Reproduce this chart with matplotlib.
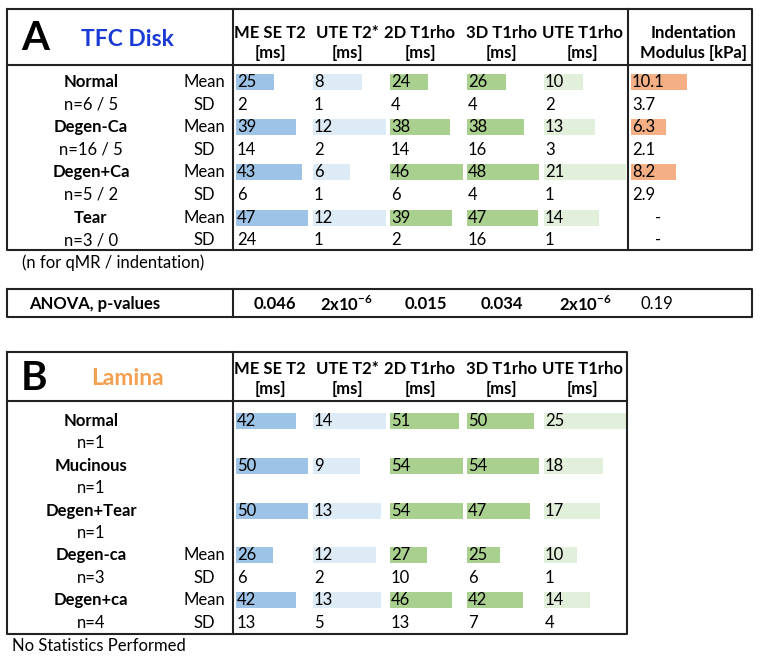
import numpy as np
import matplotlib
matplotlib.use('Agg')
import matplotlib.pyplot as plt

plt.rcParams['font.family'] = ['Lato', 'DejaVu Sans']

#=== data ====
columns = ['ME SE T2', 'UTE T2*', '2D T1rho', '3D T1rho', 'UTE T1rho']
units = ['[ms]', '[ms]', '[ms]', '[ms]', '[ms]']

# panel A : TFC disk
a_groups = ['Normal', 'Degen-Ca', 'Degen+Ca', 'Tear']
a_n = ['n=6 / 5', 'n=16 / 5', 'n=5 / 2', 'n=3 / 0']
a_mese_mean = [25, 39, 43, 47]
a_mese_sd = [2, 14, 6, 24]
a_ute2_mean = [8, 12, 6, 12]
a_ute2_sd = [1, 2, 1, 1]
a_2d_mean = [24, 38, 46, 39]
a_2d_sd = [4, 14, 6, 2]
a_3d_mean = [26, 38, 48, 47]
a_3d_sd = [4, 16, 4, 16]
a_uter_mean = [10, 13, 21, 14]
a_uter_sd = [2, 3, 1, 1]
a_ind_mean = [10.1, 6.3, 8.2, None]
a_ind_sd = [3.7, 2.1, 2.9, None]

anova_p = ['0.046', r'2x10$^{\mathregular{-6}}$', '0.015', '0.034',
           r'2x10$^{\mathregular{-6}}$', '0.19']

# panel B : lamina
b_groups = ['Normal', 'Mucinous', 'Degen+Tear', 'Degen-ca', 'Degen+ca']
b_n = ['n=1', 'n=1', 'n=1', 'n=3', 'n=4']
b_mese_mean = [42, 50, 50, 26, 42]
b_mese_sd = [None, None, None, 6, 13]
b_ute2_mean = [14, 9, 13, 12, 13]
b_ute2_sd = [None, None, None, 2, 5]
b_2d_mean = [51, 54, 54, 27, 46]
b_2d_sd = [None, None, None, 10, 13]
b_3d_mean = [50, 54, 47, 25, 42]
b_3d_sd = [None, None, None, 6, 7]
b_uter_mean = [25, 18, 17, 10, 14]
b_uter_sd = [None, None, None, 1, 4]

#=== layout (pixels) ====
col_left = [233, 310, 387, 464, 541, 628]
col_center = [270, 347, 420, 501, 582, 693]
bar_max = [72, 73, 73, 72, 82, 56]
bar_colors = ['#9dc3e6', '#ddebf7', '#a9d08e', '#a9d08e', '#e2efda', '#f4b084']
FS = 12
LW = 1.5

fig = plt.figure(figsize=(7.62, 6.58), dpi=100)
ax = fig.add_axes([0, 0, 1, 1])
ax.set_xlim(0, 762)
ax.set_ylim(658, 0)
ax.axis('off')


def box(x0, y0, x1, y1):
    ax.plot([x0, x1, x1, x0, x0], [y0, y0, y1, y1, y0], color='#222222', lw=LW, solid_capstyle='projecting')


def fmt(v):
    if v is None:
        return ''
    return ('%.1f' % v) if isinstance(v, float) else str(v)


def header(y_top, y_sep, letter, title, tcolor, ncol, right):
    ym = (y_top + y_sep) / 2
    ax.text(21, ym + 2, letter, fontsize=29, fontweight='bold', ha='left', va='center')
    ax.text(127, ym + 2, title, fontsize=16.5, fontweight='bold', color=tcolor, ha='center', va='center')
    for i in range(ncol):
        ax.text(col_center[i], y_sep - 32, columns[i], fontsize=FS, fontweight='bold', ha='center', va='center')
        ax.text(col_center[i], y_sep - 12, units[i], fontsize=FS, fontweight='bold', ha='center', va='center')
    ax.plot([7, right], [y_sep, y_sep], color='#222222', lw=LW)


def body(y0, dy, groups, nlab, means, sds, stats):
    n = len(groups)
    ym = y0 + np.arange(n) * 2 * dy
    ys = ym + dy
    for i in range(n):
        ax.text(91, ym[i], groups[i], fontsize=FS, fontweight='bold', ha='center', va='center')
        ax.text(91, ys[i], nlab[i], fontsize=FS, ha='center', va='center')
        if stats[i]:
            ax.text(204, ym[i], 'Mean', fontsize=FS, ha='center', va='center')
            ax.text(204, ys[i], 'SD', fontsize=FS, ha='center', va='center')
    for c, (m, s) in enumerate(zip(means, sds)):
        vals = np.array([np.nan if v is None else v for v in m], dtype=float)
        k = bar_max[c] / np.nanmax(vals)
        x0 = col_left[c] + 3
        ax.barh(ym, np.nan_to_num(vals) * k, left=x0, height=16, color=bar_colors[c], lw=0)
        for i in range(n):
            if m[i] is None:
                ax.text(col_left[c] + 30, ym[i], '-', fontsize=FS, ha='center', va='center')
                ax.text(col_left[c] + 30, ys[i], '-', fontsize=FS, ha='center', va='center')
            else:
                ax.text(x0 + 1, ym[i], fmt(m[i]), fontsize=FS, ha='left', va='center')
                ax.text(x0 + 1, ys[i], fmt(s[i]), fontsize=FS, ha='left', va='center')
    return ym


#=== panel A ====
box(7, 9, 752, 250)
ax.plot([233, 233], [9, 250], color='#222222', lw=LW)
ax.plot([628, 628], [9, 250], color='#222222', lw=LW)
header(9, 65, 'A', 'TFC Disk', '#1a3ad6', 5, 752)
ax.text(col_center[5], 33, 'Indentation', fontsize=FS, fontweight='bold', ha='center', va='center')
ax.text(col_center[5], 53, 'Modulus [kPa]', fontsize=FS, fontweight='bold', ha='center', va='center')
body(82, 22.6, a_groups, a_n,
     [a_mese_mean, a_ute2_mean, a_2d_mean, a_3d_mean, a_uter_mean, a_ind_mean],
     [a_mese_sd, a_ute2_sd, a_2d_sd, a_3d_sd, a_uter_sd, a_ind_sd],
     [True] * 4)
ax.text(22, 263, '(n for qMR / indentation)', fontsize=FS, ha='left', va='center')

#=== ANOVA row ====
box(7, 289, 752, 317)
ax.plot([233, 233], [289, 317], color='#222222', lw=LW)
ax.text(29, 304, 'ANOVA, p-values', fontsize=FS, fontweight='bold', ha='left', va='center')
for i, p in enumerate(anova_p):
    ax.text([275, 346, 426, 502, 585, 657][i], 304, p, fontsize=FS,
            fontweight='bold' if i < 5 else 'normal', ha='center', va='center')

#=== panel B ====
box(7, 352, 627, 634)
ax.plot([233, 233], [352, 634], color='#222222', lw=LW)
header(352, 401, 'B', 'Lamina', '#f4a052', 5, 627)
body(421, 22.4, b_groups, b_n,
     [b_mese_mean, b_ute2_mean, b_2d_mean, b_3d_mean, b_uter_mean],
     [b_mese_sd, b_ute2_sd, b_2d_sd, b_3d_sd, b_uter_sd],
     [False, False, False, True, True])
ax.text(12, 646, 'No Statistics Performed', fontsize=FS, ha='left', va='center')

fig.savefig('out.png', dpi=100)
